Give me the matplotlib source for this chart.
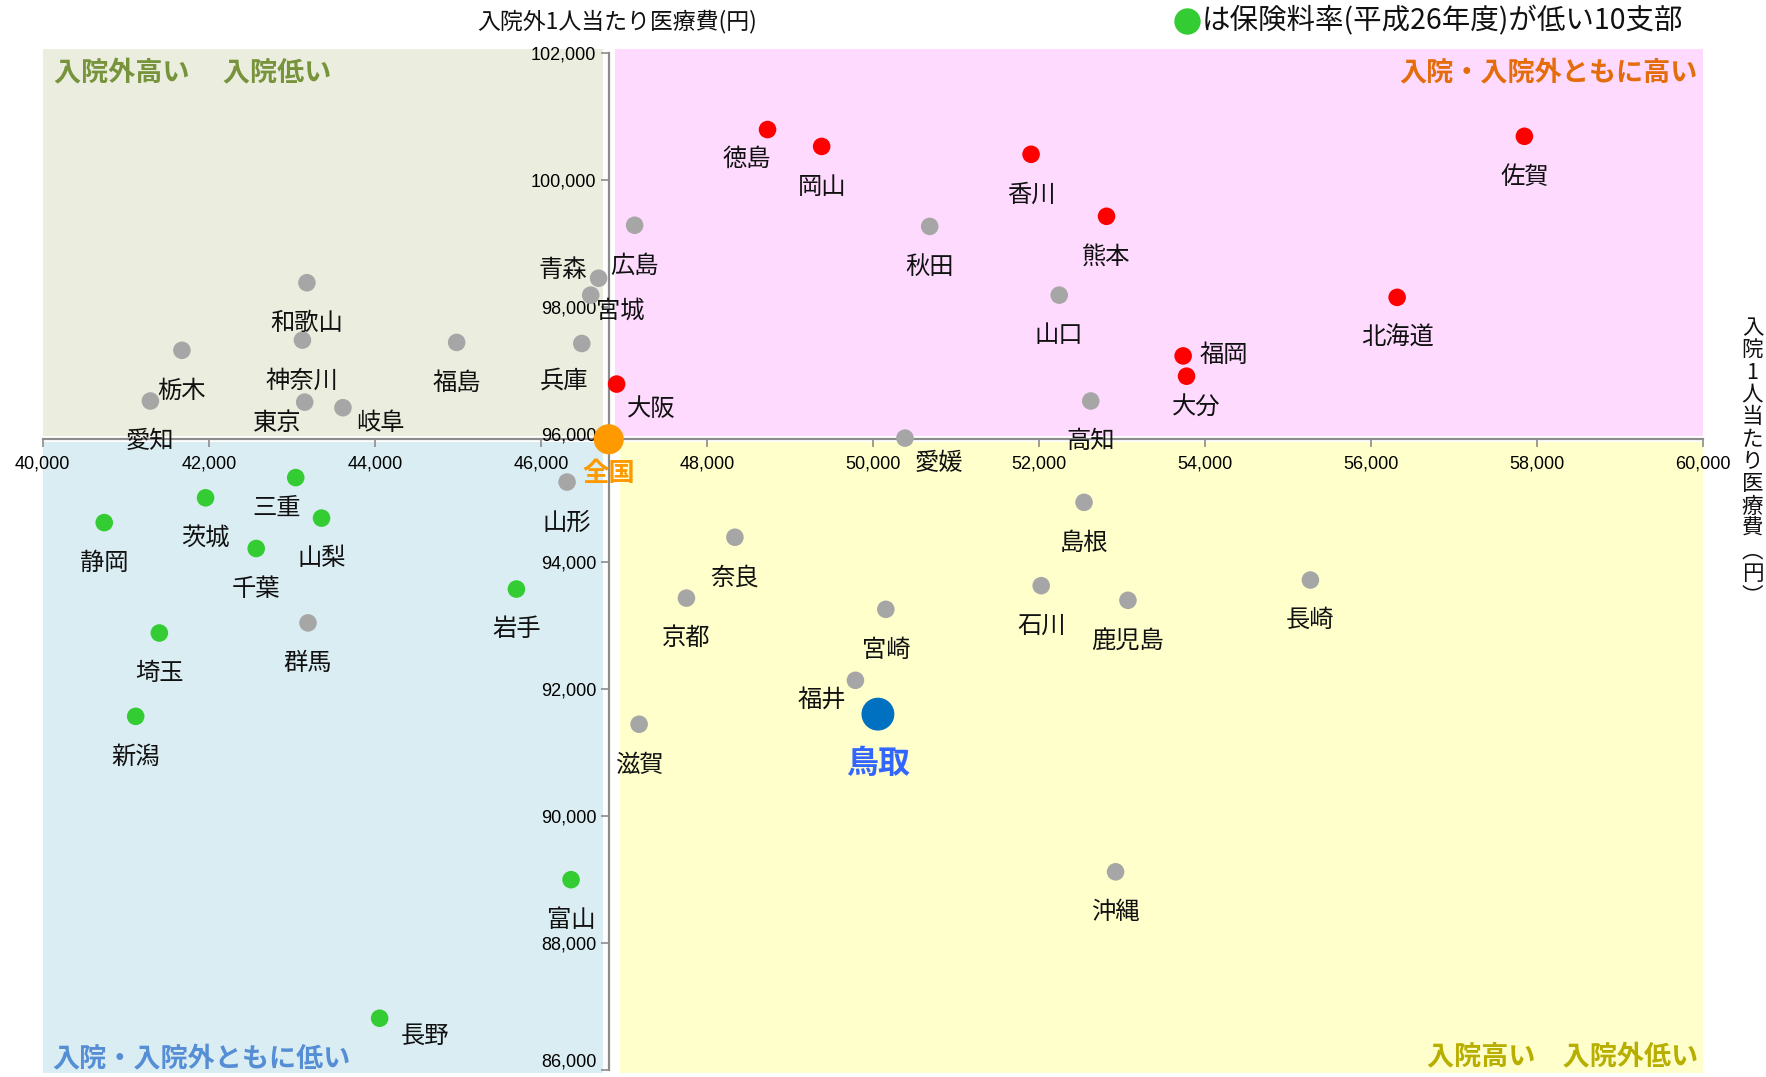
import matplotlib
matplotlib.use("Agg")
import matplotlib.pyplot as plt
from matplotlib import font_manager
from matplotlib.patches import Rectangle
from matplotlib.lines import Line2D

plt.rcParams['font.family'] = ['Noto Sans CJK JP', 'DejaVu Sans']

# ---------------- data ----------------
gray_names = ["広島", "青森", "宮城", "兵庫", "和歌山", "神奈川", "栃木", "福島", "愛知", "東京",
              "岐阜", "山形", "秋田", "山口", "高知", "愛媛", "島根", "奈良", "京都", "宮崎",
              "石川", "鹿児島", "長崎", "福井", "滋賀", "沖縄", "群馬"]
gray_x = [47130, 46696, 46601, 46493, 43182, 43128, 41676, 44986, 41296, 43155,
          43616, 46316, 50685, 52245, 52625, 50387, 52544, 48338, 47754, 50156,
          52028, 53073, 55271, 49790, 47184, 52924, 43195]
gray_y = [99290, 98457, 98191, 97430, 98386, 97483, 97323, 97447, 96526, 96508,
          96420, 95251, 99272, 98191, 96526, 95942, 94932, 94383, 93426, 93249,
          93621, 93391, 93710, 92133, 91442, 89121, 93036]

red_names = ["徳島", "岡山", "香川", "熊本", "佐賀", "北海道", "福岡", "大分", "大阪"]
red_x = [48731, 49383, 51906, 52815, 57849, 56316, 53738, 53779, 46913]
red_y = [100795, 100530, 100406, 99431, 100689, 98156, 97235, 96916, 96792]

green_names = ["三重", "茨城", "静岡", "山梨", "千葉", "岩手", "埼玉", "新潟", "富山", "長野"]
green_x = [43047, 41961, 40740, 43358, 42571, 45706, 41404, 41119, 46364, 44058]
green_y = [95321, 95003, 94613, 94684, 94206, 93568, 92877, 91566, 88997, 86818]

tottori_name = "鳥取"
tottori_x = [50061]
tottori_y = [91601]

national_name = "全国"
national_x = [46818]
national_y = [95924]

x_ticks = [40000, 42000, 44000, 46000, 48000, 50000, 52000, 54000, 56000, 58000, 60000]
y_ticks = [86000, 88000, 90000, 92000, 94000, 96000, 98000, 100000, 102000]

title_top = "入院外1人当たり医療費(円)"
title_right = "入院1人当たり医療費(円)"
legend_text = "は保険料率(平成26年度)が低い10支部"
quad_tl = "入院外高い　 入院低い"
quad_tr = "入院・入院外ともに高い"
quad_bl = "入院・入院外ともに低い"
quad_br = "入院高い　入院外低い"

# label offsets (points) & alignment: default below-centre
default_off = (0, -29, 'center')
label_off = {
    "青森": (-8, 6, 'right'), "宮城": (4, -11, 'left'), "兵庫": (-13, -27, 'center'),
    "広島": (0, -29, 'center'), "愛媛": (7, -18, 'left'), "大阪": (25, -18, 'center'),
    "福岡": (12, 1, 'left'), "大分": (7, -23, 'center'), "岐阜": (27, -11, 'center'),
    "東京": (-20, -15, 'center'), "三重": (-14, -22, 'center'), "長野": (33, -13, 'center'),
    "福井": (-24, -14, 'center'), "徳島": (-15, -21, 'center'),
}

# ---------------- fonts ----------------
available = {f.name for f in font_manager.fontManager.ttflist}
if 'Liberation Sans Narrow' in available:
    tick_family, tick_size = 'Liberation Sans Narrow', 15
else:
    tick_family, tick_size = 'Liberation Sans', 13

# ---------------- figure ----------------
fig = plt.figure(figsize=(17.66, 10.77), dpi=100)
ax = fig.add_axes([38 / 1568, 1 - 950 / 956, (1512 - 38) / 1568, (950 - 47) / 956])
ax.set_xlim(40000, 60000)
ax.set_ylim(86000, 102000)

cx, cy = national_x[0], national_y[0]
gx, gy = 70, 50
top_ext, bot_ext = 55, 40
bg = [
    (40000, cy + gy, cx - gx - 40000, 102000 + top_ext - (cy + gy), '#EBEEDE'),
    (cx + gx, cy + gy, 60000 - (cx + gx), 102000 + top_ext - (cy + gy), '#FEDBFE'),
    (40000, 86000 - bot_ext, cx - gx - 40000, cy - gy - 86000 + bot_ext, '#DAEDF3'),
    (cx + 2 * gx, 86000 - bot_ext, 60000 - (cx + 2 * gx), cy - gy - 86000 + bot_ext, '#FFFFCC'),
]
for x0, y0, w, h, c in bg:
    ax.add_patch(Rectangle((x0, y0), w, h, facecolor=c, edgecolor='none', zorder=0, clip_on=False))

# spines through the national point
for s in ['top', 'right']:
    ax.spines[s].set_visible(False)
ax.spines['left'].set_position(('data', cx))
ax.spines['bottom'].set_position(('data', cy))
for s in ['left', 'bottom']:
    ax.spines[s].set_color('#8C8C8C')
    ax.spines[s].set_linewidth(1.6)
    ax.spines[s].set_zorder(1)

ax.set_xticks(x_ticks)
ax.set_yticks(y_ticks)
ax.set_xticklabels([f"{v:,}" for v in x_ticks], family=tick_family, fontsize=tick_size)
ax.set_yticklabels([f"{v:,}" for v in y_ticks], family=tick_family, fontsize=tick_size)
ax.tick_params(axis='both', direction='out', length=6, width=1.2, color='#8C8C8C', pad=3)
ax.tick_params(axis='x', pad=6)
# keep the lowest y label inside the picture
ax.get_yticklabels()[0].set_verticalalignment('bottom')

# points
ms = 160
ax.scatter(gray_x, gray_y, s=ms, c='#A6A6A6', edgecolors='none', zorder=3)
ax.scatter(red_x, red_y, s=ms, c='#FF0000', edgecolors='none', zorder=3)
ax.scatter(green_x, green_y, s=ms, c='#33CC33', edgecolors='none', zorder=3)
ax.scatter(tottori_x, tottori_y, s=560, c='#0070C0', edgecolors='none', zorder=3)
ax.scatter(national_x, national_y, s=470, c='#FF9900', edgecolors='none', zorder=4)

lab_size = 17.5
def put_labels(names, xs, ys):
    for n, x, y in zip(names, xs, ys):
        dx, dy, ha = label_off.get(n, default_off)
        ax.annotate(n, (x, y), xytext=(dx, dy), textcoords='offset points',
                    ha=ha, va='center', fontsize=lab_size, color='#111111', zorder=5)

put_labels(gray_names, gray_x, gray_y)
put_labels(red_names, red_x, red_y)
put_labels(green_names, green_x, green_y)

ax.annotate(tottori_name, (tottori_x[0], tottori_y[0]), xytext=(0, -36), textcoords='offset points',
            ha='center', va='center', fontsize=23, fontweight='bold', color='#3366FF', zorder=5)
ax.annotate(national_name, (national_x[0], national_y[0]), xytext=(0, -25), textcoords='offset points',
            ha='center', va='center', fontsize=19, fontweight='bold', color='#FF9900', zorder=5)

# quadrant captions
qsize = 19.5
ax.text(0.007, 0.980, quad_tl, transform=ax.transAxes, ha='left', va='center',
        fontsize=qsize, fontweight='bold', color='#77933C', zorder=5)
ax.text(0.997, 0.980, quad_tr, transform=ax.transAxes, ha='right', va='center',
        fontsize=qsize, fontweight='bold', color='#E46C0A', zorder=5)
ax.text(0.006, 0.011, quad_bl, transform=ax.transAxes, ha='left', va='center',
        fontsize=qsize, fontweight='bold', color='#558ED5', zorder=5)
ax.text(0.997, 0.013, quad_br, transform=ax.transAxes, ha='right', va='center',
        fontsize=qsize, fontweight='bold', color='#B8AE00', zorder=5)

# titles
fig.text(548 / 1568, 1 - 19 / 956, title_top, ha='center', va='center', fontsize=16.5, color='#111111')

vert = title_right.replace('(', '︵').replace(')', '︶')
fig.text(1556 / 1568, 1 - 410 / 956, "\n".join(vert), ha='center', va='center',
         fontsize=15.5, linespacing=1.02, color='#111111')

# legend note
fig.add_artist(Line2D([1054 / 1568], [1 - 19 / 956], marker='o', markersize=19,
                      markerfacecolor='#33CC33', markeredgecolor='none', linestyle='none',
                      transform=fig.transFigure))
fig.text(1067 / 1568, 1 - 19 / 956, legend_text, ha='left', va='center', fontsize=20.5, color='#111111')

fig.savefig("out.png", dpi=100)
